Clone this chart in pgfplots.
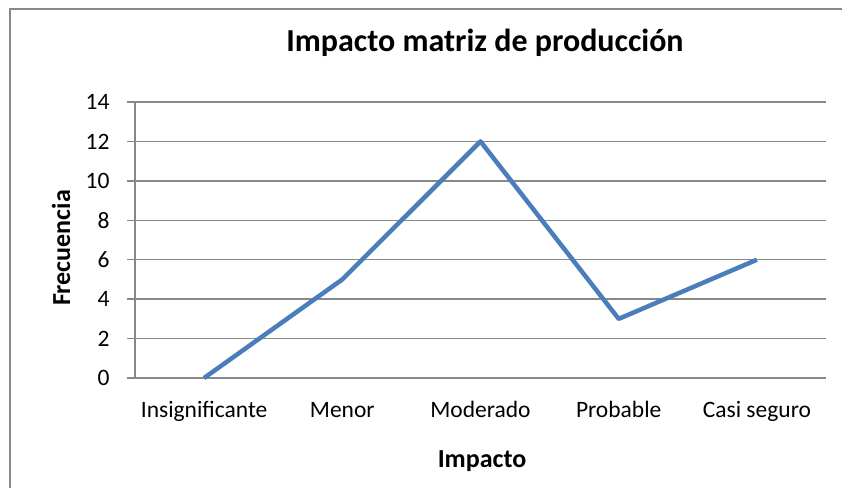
\documentclass[border=0pt]{standalone}
\usepackage{fontspec}
\setmainfont{Carlito}
\usepackage{pgfplots}
\pgfplotsset{compat=1.18}
\definecolor{lineblue}{HTML}{4A7EBB}
\definecolor{gridgray}{HTML}{888888}
\begin{document}
\begin{tikzpicture}[font=\fontsize{23.5bp}{28bp}\selectfont]
\useasboundingbox (0bp,0bp) rectangle (842bp,488bp);
% chart frame
\draw[gridgray, line width=1.2bp] (10bp,-5bp) -- (10bp,479bp) -- (850bp,479bp);
\begin{axis}[
    at={(135bp,110bp)}, anchor=south west,
    scale only axis,
    width=691bp, height=276bp,
    xmin=-0.5, xmax=4.5,
    ymin=0, ymax=14,
    xtick={0,1,2,3,4},
    xticklabels={Insignificante,Menor,Moderado,Probable,Casi seguro},
    ytick={0,2,4,6,8,10,12,14},
    axis lines*=left,
    axis line style={gridgray, line width=1.3bp},
    ymajorgrids,
    grid style={gridgray, line width=1.3bp},
    tick align=outside,
    major tick length=8bp,
    xtick style={draw=none},
    ytick style={gridgray, line width=1.3bp},
    tick label style={font=\fontsize{23.5bp}{28bp}\selectfont},
    /pgf/number format/assume math mode=true,
    yticklabel style={xshift=-14bp},
    xticklabel style={text height=17bp, text depth=5bp, yshift=-11bp},
    clip=false,
]
\addplot[lineblue, line width=4.5bp, line join=round] coordinates {
    (0,0) (1,5) (2,12) (3,3) (4,6)
};
\end{axis}
\node[anchor=base, font=\fontsize{32bp}{38bp}\selectfont\bfseries] at (485bp,436bp) {Impacto matriz de producción};
\node[anchor=base, font=\fontsize{26bp}{30bp}\selectfont\bfseries] at (482bp,21bp) {Impacto};
\node[anchor=base, rotate=90, font=\fontsize{26bp}{30bp}\selectfont\bfseries] at (70bp,240bp) {Frecuencia};
\end{tikzpicture}
\end{document}
